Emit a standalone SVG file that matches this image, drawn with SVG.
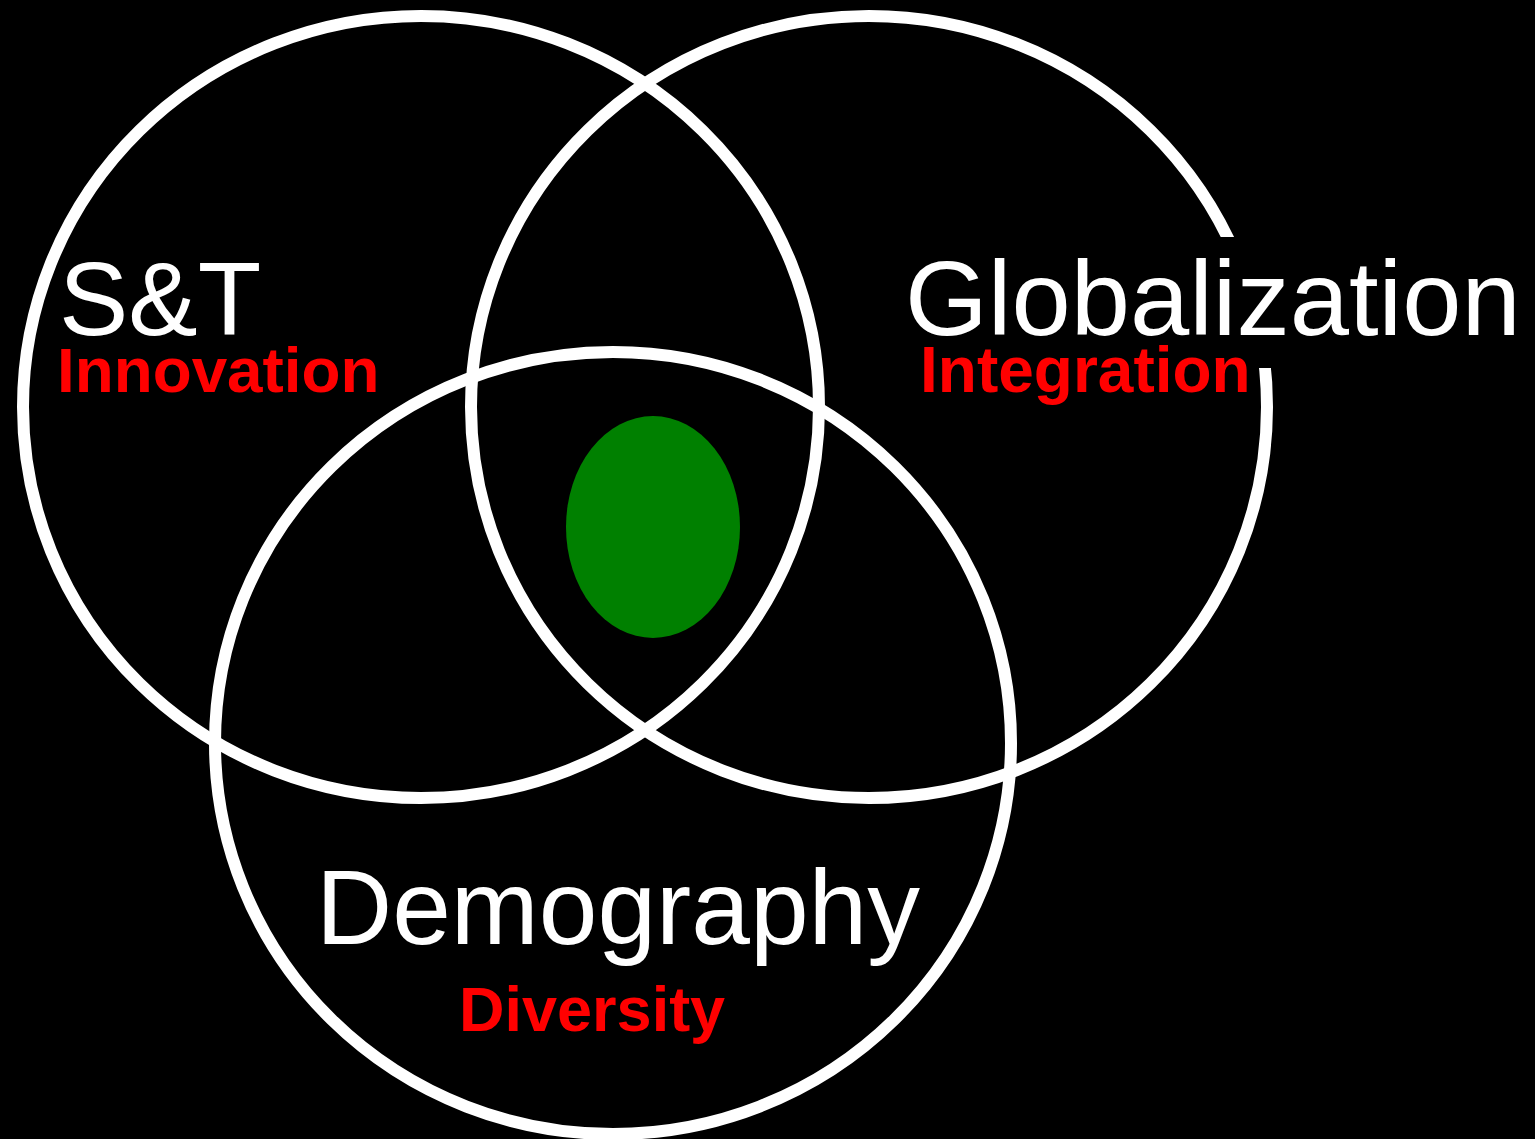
<svg xmlns="http://www.w3.org/2000/svg" width="1535" height="1139" viewBox="0 0 1535 1139">
  <style>
    .ring { fill: none; stroke: #ffffff; stroke-width: 12; }
    .title { font-family: "Liberation Sans", Arial, sans-serif; fill: #ffffff; }
    .sub { font-family: "Liberation Sans", Arial, sans-serif; font-weight: bold; fill: #ff0000; }
  </style>
  <rect x="0" y="0" width="1535" height="1139" fill="#000000"/>
  <g id="circle-st">
    <ellipse class="ring" cx="421" cy="407" rx="398" ry="391"/>
  </g>
  <g id="circle-globalization">
    <ellipse class="ring" cx="869" cy="407" rx="398" ry="391"/>
  </g>
  <g id="circle-demography">
    <ellipse class="ring" cx="613" cy="743" rx="398" ry="391"/>
  </g>
  <g id="core">
    <ellipse cx="653" cy="527" rx="87" ry="111" fill="#008000"/>
  </g>
  <g id="label-st">
    <text class="title" x="59" y="335" font-size="104">S&amp;T</text>
    <text class="sub" x="57" y="392" font-size="63.8">Innovation</text>
  </g>
  <g id="label-globalization">
    <rect x="900" y="237" width="630" height="131" fill="#000000"/>
    <text class="title" x="905" y="335" font-size="106.5">Globalization</text>
    <text class="sub" x="920" y="392" font-size="64">Integration</text>
  </g>
  <g id="label-demography">
    <text class="title" x="316" y="944" font-size="105.5">Demography</text>
    <text class="sub" x="459" y="1031" font-size="63">Diversity</text>
  </g>
</svg>
